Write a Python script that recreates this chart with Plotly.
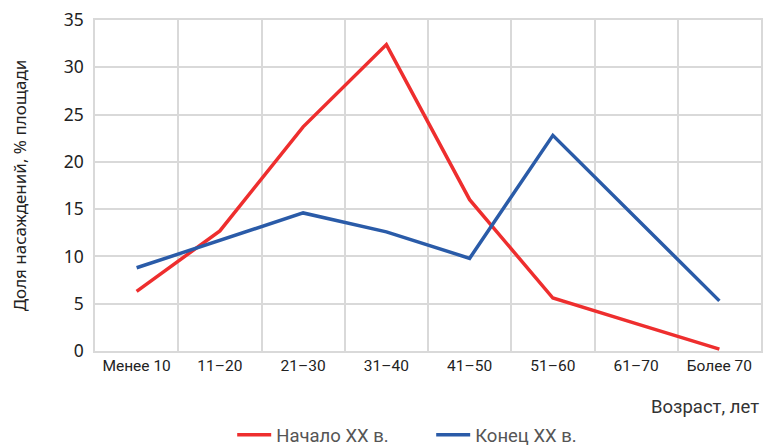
import plotly.graph_objects as go

categories = ["Менее 10", "11–20", "21–30", "31–40", "41–50", "51–60", "61–70", "Более 70"]
start_xx = [6.3, 12.7, 23.7, 32.4, 16.0, 5.6, 2.9, 0.2]
end_xx = [8.8, 11.7, 14.6, 12.6, 9.8, 22.8, 14.0, 5.3]
series_names = ["Начало XX в.", "Конец XX в."]
y_ticks = [0, 5, 10, 15, 20, 25, 30, 35]

FONT = "Noto Sans"
NARROW = "Roboto"
GRID = "#d9d9d9"

fig = go.Figure()
fig.add_trace(go.Scatter(x=categories, y=start_xx, mode="lines", name=series_names[0],
                         line=dict(color="#ee2e2e", width=3.5)))
fig.add_trace(go.Scatter(x=categories, y=end_xx, mode="lines", name=series_names[1],
                         line=dict(color="#2a5ba8", width=3.5)))

fig.update_layout(
    width=764, height=446,
    margin=dict(l=95, r=3, t=20, b=95, autoexpand=False),
    paper_bgcolor="white", plot_bgcolor="white",
    font=dict(family=FONT, color="#222222"),
    showlegend=True,
    legend=dict(orientation="h", x=0.206, xanchor="left", xref="paper",
                y=-0.197, yanchor="top", yref="paper",
                font=dict(size=18.5, family=NARROW, color="#555555"),
                itemwidth=34, entrywidth=150, entrywidthmode="pixels", tracegroupgap=0),
    hovermode=False,
)
fig.update_xaxes(
    type="category", range=[-0.5, 7.5], tickson="boundaries", automargin=False,
    showgrid=True, gridcolor=GRID, gridwidth=1.5,
    showline=True, mirror=True, linecolor=GRID, linewidth=1.5,
    ticks="", tickfont=dict(size=15.5, family=NARROW, color="#222222"),
)
fig.update_yaxes(
    range=[0, 35], tickvals=y_ticks, automargin=False,
    showgrid=True, gridcolor=GRID, gridwidth=1.5,
    showline=True, mirror=True, linecolor=GRID, linewidth=1.5,
    ticks="outside", ticklen=6, tickcolor="rgba(0,0,0,0)",
    tickfont=dict(size=17.5, family=FONT), zeroline=False,
    title=dict(text="Доля насаждений, % площади", font=dict(size=17, family=FONT), standoff=33),
)
fig.add_annotation(text="Возраст, лет", xref="paper", yref="paper", x=1.0, y=-0.13,
                   xanchor="right", yanchor="top", showarrow=False,
                   font=dict(size=18.5, family=NARROW, color="#333333"))

fig.write_html("out.html", config={"displayModeBar": False},
               post_script="document.body.style.margin='0';")
